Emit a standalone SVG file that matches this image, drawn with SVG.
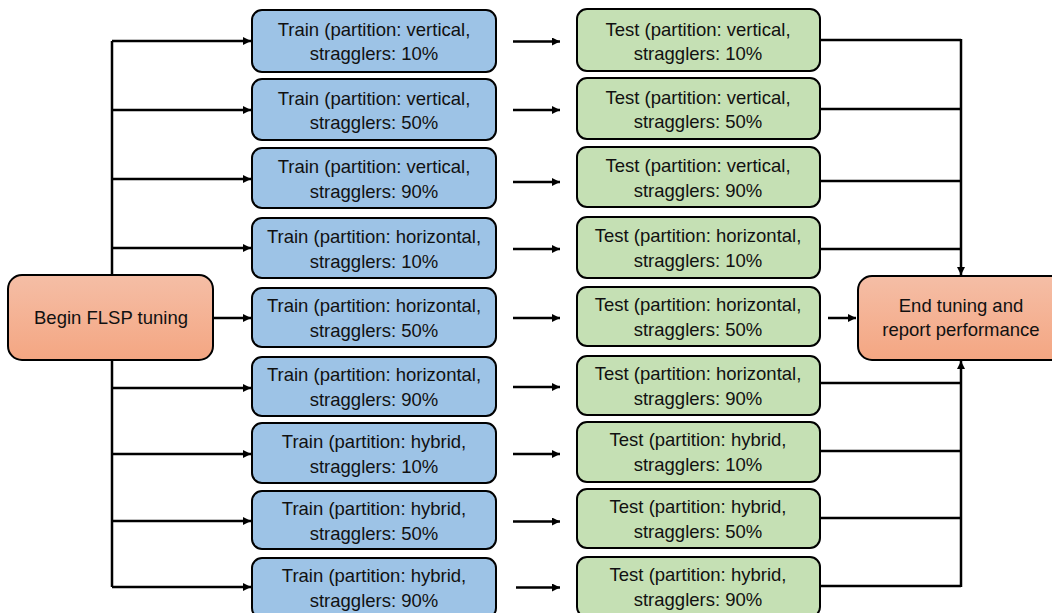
<svg xmlns="http://www.w3.org/2000/svg" width="1052" height="613" viewBox="0 0 1052 613">
<defs>
<linearGradient id="og" x1="0" y1="0" x2="0" y2="1">
<stop offset="0" stop-color="#F5BEA6"/>
<stop offset="1" stop-color="#F4A682"/>
</linearGradient>
<marker id="ah" markerWidth="10" markerHeight="10" refX="8" refY="4" orient="auto" markerUnits="userSpaceOnUse">
<path d="M0,0 L8,4 L0,8 Z" fill="#000"/>
</marker>
</defs>
<style>
.train{fill:#9DC3E6;stroke:#000;stroke-width:2}
.test{fill:#C5E0B4;stroke:#000;stroke-width:2}
.term{fill:url(#og);stroke:#000;stroke-width:2}
text{font-family:"Liberation Sans",Arial,sans-serif;font-size:18.5px;fill:#111;text-anchor:middle}
.ln{fill:none;stroke:#000;stroke-width:2.5}
.ar{fill:none;stroke:#000;stroke-width:2.5;marker-end:url(#ah)}
</style>
<rect width="1052" height="613" fill="#fff"/>
<g id="connectors">
<path class="ln" d="M112,41 V587"/>
<path class="ar" d="M112,41 H251"/>
<path class="ar" d="M112,110 H251"/>
<path class="ar" d="M112,179 H251"/>
<path class="ar" d="M112,248 H251"/>
<path class="ar" d="M213,318 H251"/>
<path class="ar" d="M112,388 H251"/>
<path class="ar" d="M112,454 H251"/>
<path class="ar" d="M112,521 H251"/>
<path class="ar" d="M112,587 H251"/>
<path class="ar" d="M513,41.5 H560"/>
<path class="ar" d="M513,110 H560"/>
<path class="ar" d="M513,182 H560"/>
<path class="ar" d="M513,249 H560"/>
<path class="ar" d="M513,318 H560"/>
<path class="ar" d="M513,387 H560"/>
<path class="ar" d="M513,454 H560"/>
<path class="ar" d="M513,521.5 H560"/>
<path class="ar" d="M516,587.5 H560"/>
<path class="ar" d="M828,318 H856"/>
<path class="ln" d="M820,40 H961"/>
<path class="ln" d="M820,109 H961"/>
<path class="ln" d="M820,181 H961"/>
<path class="ln" d="M820,249 H961"/>
<path class="ar" d="M961,39 V275"/>
<path class="ln" d="M820,383 H961"/>
<path class="ln" d="M820,451 H961"/>
<path class="ln" d="M820,518 H961"/>
<path class="ln" d="M820,586 H961"/>
<path class="ar" d="M961,587 V361"/>
</g>
<g id="begin">
<rect class="term" x="8" y="275" width="205" height="85" rx="14"/>
<text x="111" y="324">Begin FLSP tuning</text>
</g>
<g id="end">
<rect class="term" x="858" y="276" width="210" height="84" rx="14"/>
<text x="961" y="312">End tuning and</text>
<text x="961" y="336">report performance</text>
</g>
<g id="train1"><rect class="train" x="252" y="10" width="244" height="62" rx="10"/><text x="374" y="36">Train (partition: vertical,</text><text x="374" y="60">stragglers: 10%</text></g>
<g id="train2"><rect class="train" x="252" y="79" width="244" height="61" rx="10"/><text x="374" y="105">Train (partition: vertical,</text><text x="374" y="129">stragglers: 50%</text></g>
<g id="train3"><rect class="train" x="252" y="148" width="244" height="60" rx="10"/><text x="374" y="173">Train (partition: vertical,</text><text x="374" y="198">stragglers: 90%</text></g>
<g id="train4"><rect class="train" x="252" y="218" width="244" height="60" rx="10"/><text x="374" y="243">Train (partition: horizontal,</text><text x="374" y="268">stragglers: 10%</text></g>
<g id="train5"><rect class="train" x="252" y="288" width="244" height="59" rx="10"/><text x="374" y="312">Train (partition: horizontal,</text><text x="374" y="337">stragglers: 50%</text></g>
<g id="train6"><rect class="train" x="252" y="357" width="244" height="59" rx="10"/><text x="374" y="381">Train (partition: horizontal,</text><text x="374" y="406">stragglers: 90%</text></g>
<g id="train7"><rect class="train" x="252" y="423" width="244" height="60" rx="10"/><text x="374" y="448">Train (partition: hybrid,</text><text x="374" y="473">stragglers: 10%</text></g>
<g id="train8"><rect class="train" x="252" y="491" width="244" height="58" rx="10"/><text x="374" y="515">Train (partition: hybrid,</text><text x="374" y="540">stragglers: 50%</text></g>
<g id="train9"><rect class="train" x="252" y="558" width="244" height="60" rx="10"/><text x="374" y="582">Train (partition: hybrid,</text><text x="374" y="607">stragglers: 90%</text></g>
<g id="test1"><rect class="test" x="577" y="9" width="243" height="62" rx="10"/><text x="698" y="36">Test (partition: vertical,</text><text x="698" y="60">stragglers: 10%</text></g>
<g id="test2"><rect class="test" x="577" y="78" width="243" height="61" rx="10"/><text x="698" y="104">Test (partition: vertical,</text><text x="698" y="128">stragglers: 50%</text></g>
<g id="test3"><rect class="test" x="577" y="147" width="243" height="60" rx="10"/><text x="698" y="172">Test (partition: vertical,</text><text x="698" y="197">stragglers: 90%</text></g>
<g id="test4"><rect class="test" x="577" y="217" width="243" height="61" rx="10"/><text x="698" y="242">Test (partition: horizontal,</text><text x="698" y="267">stragglers: 10%</text></g>
<g id="test5"><rect class="test" x="577" y="287" width="243" height="59" rx="10"/><text x="698" y="311">Test (partition: horizontal,</text><text x="698" y="336">stragglers: 50%</text></g>
<g id="test6"><rect class="test" x="577" y="356" width="243" height="59" rx="10"/><text x="698" y="380">Test (partition: horizontal,</text><text x="698" y="405">stragglers: 90%</text></g>
<g id="test7"><rect class="test" x="577" y="422" width="243" height="60" rx="10"/><text x="698" y="446">Test (partition: hybrid,</text><text x="698" y="471">stragglers: 10%</text></g>
<g id="test8"><rect class="test" x="577" y="489" width="243" height="59" rx="10"/><text x="698" y="513">Test (partition: hybrid,</text><text x="698" y="538">stragglers: 50%</text></g>
<g id="test9"><rect class="test" x="577" y="557" width="243" height="60" rx="10"/><text x="698" y="581">Test (partition: hybrid,</text><text x="698" y="606">stragglers: 90%</text></g>
</svg>
